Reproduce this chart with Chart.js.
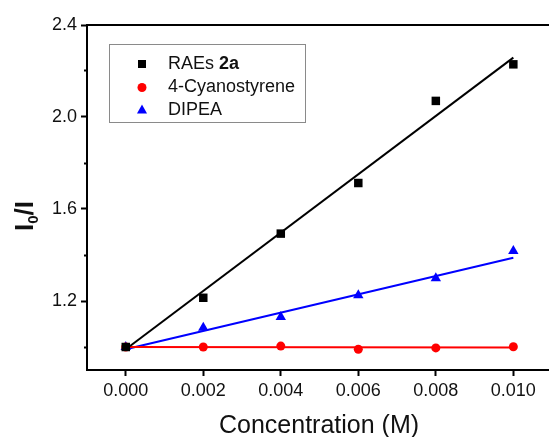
<!DOCTYPE html>
<html>
<head>
<meta charset="utf-8">
<script src="https://cdn.jsdelivr.net/npm/chart.js@4/dist/chart.umd.min.js"></script>
<style>
  html, body { margin: 0; padding: 0; background: #fff; overflow: hidden; }
  #wrap { position: relative; width: 549px; height: 437px; }
</style>
</head>
<body>
<div id="wrap"><canvas id="chart"></canvas></div>
<script>
// -------------------- DATA --------------------
const concentrations = [0, 0.002, 0.004, 0.006, 0.008, 0.010];
const raesValues = [1.0, 1.214, 1.493, 1.713, 2.070, 2.229];
const cyanoValues = [1.0, 1.0, 1.004, 0.990, 0.996, 1.001];
const dipeaValues = [1.0, 1.084, 1.130, 1.225, 1.299, 1.417];

// fitted lines, endpoints
const fitX = [0, 0.010];
const raesFit = [0.990, 2.258];
const cyanoFit = [1.0, 0.998];
const dipeaFit = [0.990, 1.388];

const xTickValues = [0, 0.002, 0.004, 0.006, 0.008, 0.010];
const yTickValues = [1.0, 1.2, 1.4, 1.6, 1.8, 2.0, 2.2, 2.4];
const yTickLabels = ["1.2", "1.6", "2.0", "2.4"];

const legendNames = ["RAEs ", "4-Cyanostyrene", "DIPEA"];
const FONT = "'Liberation Sans', Arial, Helvetica, sans-serif";

function pts(xs, ys){ return xs.map((x,i)=>({x:x, y:ys[i]})); }

// -------------------- EXTRAS: frame, legend, titles --------------------
const extras = {
    id: "extras",
    afterDraw(chart){
        const ctx = chart.ctx;
        const area = chart.chartArea;
        ctx.save();

        // top border
        ctx.strokeStyle = "#000";
        ctx.lineWidth = 2;
        ctx.beginPath();
        ctx.moveTo(area.left - 1, area.top);
        ctx.lineTo(chart.width, area.top);
        ctx.stroke();

        // legend box
        ctx.strokeStyle = "#8a8a8a";
        ctx.lineWidth = 1;
        ctx.strokeRect(109.5, 44.5, 196, 78);

        const mx = 142, tx = 168;
        const rows = [64, 87.5, 110];
        ctx.textBaseline = "middle";
        ctx.textAlign = "left";

        // square
        ctx.fillStyle = "#000";
        ctx.fillRect(mx - 4, rows[0] - 4, 8, 8);
        // circle
        ctx.fillStyle = "#ff0000";
        ctx.beginPath(); ctx.arc(mx, rows[1], 4.5, 0, Math.PI*2); ctx.fill();
        // triangle
        ctx.fillStyle = "#0000ff";
        ctx.beginPath();
        ctx.moveTo(mx, rows[2] - 5.5);
        ctx.lineTo(mx + 5, rows[2] + 3.5);
        ctx.lineTo(mx - 5, rows[2] + 3.5);
        ctx.closePath(); ctx.fill();

        ctx.fillStyle = "#111";
        ctx.font = "18px " + FONT;
        ctx.fillText(legendNames[0], tx, rows[0]);
        const w0 = ctx.measureText(legendNames[0]).width;
        ctx.font = "bold 18px " + FONT;
        ctx.fillText("2a", tx + w0, rows[0]);
        ctx.font = "18px " + FONT;
        ctx.fillText(legendNames[1], tx, rows[1]);
        ctx.fillText(legendNames[2], tx, rows[2]);

        // x title
        ctx.textAlign = "center";
        ctx.font = "25px " + FONT;
        ctx.fillText("Concentration (M)", 319, 426);

        // y title  I0/I
        ctx.translate(33, 216);
        ctx.rotate(-Math.PI/2);
        ctx.textAlign = "left";
        ctx.textBaseline = "alphabetic";
        const big = "bold 26px " + FONT, small = "bold 15px " + FONT;
        ctx.font = big; const wI = ctx.measureText("I").width;
        ctx.font = small; const wSub = ctx.measureText("0").width;
        ctx.font = big; const wRest = ctx.measureText("/I").width;
        let x0 = -(wI + wSub + wRest)/2;
        ctx.font = big; ctx.fillText("I", x0, 0);
        ctx.font = small; ctx.fillText("0", x0 + wI, 5);
        ctx.font = big; ctx.fillText("/I", x0 + wI + wSub, 0);

        ctx.restore();
    }
};

// -------------------- CHART --------------------
const ctx = document.getElementById("chart").getContext("2d");
new Chart(ctx, {
    type: "scatter",
    data: {
        datasets: [
            {label:"RAEs 2a", data: pts(concentrations, raesValues), pointStyle:"rect", pointRadius:6, backgroundColor:"#000", borderWidth:0, order:1},
            {label:"4-Cyanostyrene", data: pts(concentrations, cyanoValues), pointStyle:"circle", pointRadius:4.5, backgroundColor:"#ff0000", borderWidth:0, order:1},
            {label:"DIPEA", data: pts(concentrations, dipeaValues), pointStyle:"triangle", pointRadius:6, backgroundColor:"#0000ff", borderWidth:0, order:1},
            {label:"fit1", data: pts(fitX, raesFit), showLine:true, pointRadius:0, borderColor:"#000", borderWidth:2, order:2},
            {label:"fit2", data: pts(fitX, cyanoFit), showLine:true, pointRadius:0, borderColor:"#ff0000", borderWidth:2, order:2},
            {label:"fit3", data: pts(fitX, dipeaFit), showLine:true, pointRadius:0, borderColor:"#0000ff", borderWidth:2, order:2}
        ]
    },
    options: {
        responsive: true,
        maintainAspectRatio: false,
        animation: false,
        layout: { autoPadding: false, padding: { top: 25, left: 0, right: 0, bottom: 0 } },
        plugins: { legend: { display: false }, tooltip: { enabled: false } },
        scales: {
            x: {
                type: "linear",
                min: -0.001,
                max: 0.01092,
                afterBuildTicks: s => { s.ticks = xTickValues.map(v => ({value: v})); },
                afterFit: s => { s.height = 67; s.paddingLeft = 0; s.paddingRight = 0; },
                ticks: {
                    color: "#111",
                    font: { family: FONT, size: 18 },
                    padding: 4,
                    maxRotation: 0,
                    callback: v => Number(v).toFixed(3)
                },
                grid: { drawOnChartArea: false, drawTicks: true, tickLength: 6, tickColor: "#000", tickWidth: 2 },
                border: { display: true, color: "#000", width: 2 }
            },
            y: {
                type: "linear",
                min: 0.9,
                max: 2.4,
                afterBuildTicks: s => { s.ticks = yTickValues.map(v => ({value: v})); },
                afterFit: s => { s.width = 87; s.paddingTop = 0; s.paddingBottom = 0; },
                ticks: {
                    color: "#111",
                    font: { family: FONT, size: 18 },
                    padding: 4,
                    callback: v => {
                        const t = Number(v).toFixed(1);
                        return yTickLabels.includes(t) ? t : "";
                    }
                },
                grid: {
                    drawOnChartArea: false, drawTicks: true, tickLength: 6, tickColor: "#000", tickWidth: 2,
                    tickBorderDash: c => yTickLabels.includes(Number(c.tick.value).toFixed(1)) ? [] : [0, 3, 3, 10]
                },
                border: { display: true, color: "#000", width: 2 }
            }
        }
    },
    plugins: [extras]
});
</script>
</body>
</html>
